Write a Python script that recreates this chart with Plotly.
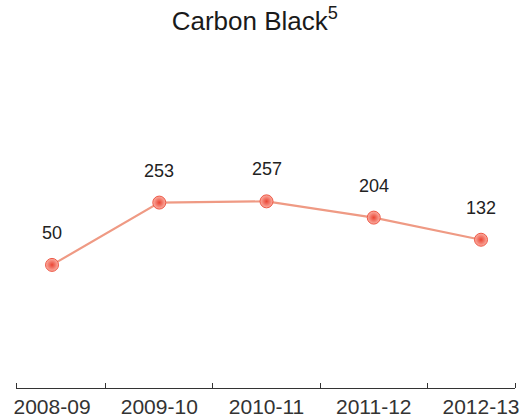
import plotly.graph_objects as go

years = ["2008-09", "2009-10", "2010-11", "2011-12", "2012-13"]
values = [50, 253, 257, 204, 132]

xpos = list(range(len(years)))
x_lo, x_hi = -0.336, 4.317
boundaries = [x_lo] + [i + 0.5 for i in xpos[:-1]] + [x_hi]

fig = go.Figure()
fig.add_trace(go.Scatter(
    x=xpos, y=values, mode="lines+markers",
    line=dict(color="#ef9a84", width=2.2),
    marker=dict(size=13, color="#fbb0a4",
                gradient=dict(type="radial", color="#ea4433"),
                line=dict(color="#ee5a48", width=1)),
    hoverinfo="skip", showlegend=False,
))

for x, v in zip(xpos, values):
    fig.add_annotation(x=x, y=v, text=str(v), showarrow=False, yshift=32,
                       font=dict(family="Liberation Sans, Arial", size=18, color="#222"))

fig.update_layout(
    width=520, height=417,
    margin=dict(l=16, r=5, t=50, b=29),
    paper_bgcolor="white", plot_bgcolor="white",
    title=dict(text="Carbon Black<sup>5</sup>", x=0.49, xanchor="center",
               y=0.95, yanchor="middle",
               font=dict(family="Liberation Sans, Arial", size=26, color="#1a1a1a")),
    xaxis=dict(
        range=[x_lo, x_hi], tickmode="array", tickvals=xpos, ticktext=years,
        ticks="", showgrid=False, zeroline=False, automargin=False,
        showline=True, linecolor="#333", linewidth=1,
        tickfont=dict(family="Liberation Sans, Arial", size=21, color="#333"),
        minor=dict(tickmode="array", tickvals=boundaries, ticks="inside",
                   ticklen=5, tickcolor="#333", tickwidth=1, showgrid=False),
    ),
    yaxis=dict(range=[-351, 750], visible=False, showgrid=False, zeroline=False,
               automargin=False),
)

fig.write_html("out.html")
